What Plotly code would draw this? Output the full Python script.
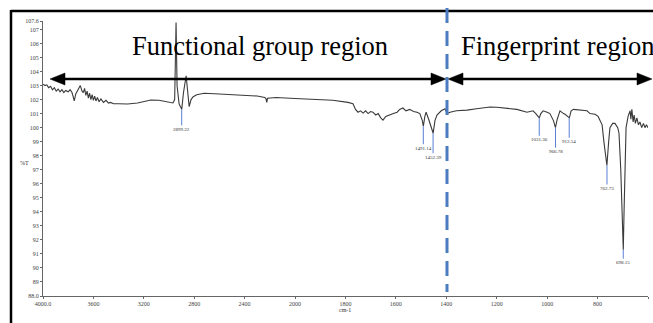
import plotly.graph_objects as go

# ---------------- data ----------------
wavenumber = [4000, 3985, 3970, 3955, 3940, 3925, 3910, 3895, 3880, 3865, 3850, 3835, 3820, 3800,
              3785, 3770, 3760, 3752, 3740, 3720, 3704, 3690, 3680, 3670, 3660, 3650, 3640, 3630,
              3620, 3610, 3600, 3590, 3580, 3568, 3555, 3540, 3520, 3500, 3480, 3464, 3440, 3400,
              3328, 3250, 3200, 3144, 3080, 3008, 2968, 2955, 2944, 2936, 2920, 2899, 2885, 2864,
              2850, 2840, 2825, 2808, 2780, 2744, 2720, 2600, 2500, 2424, 2300, 2240, 2230, 2224,
              2218, 2150, 2024, 2000, 1950, 1913, 1850, 1790, 1770, 1760, 1750, 1740, 1730, 1720,
              1710, 1700, 1691, 1680, 1670, 1660, 1651, 1640, 1630, 1620, 1610, 1595, 1585, 1572,
              1560, 1545, 1530, 1516, 1505, 1495, 1491, 1485, 1480, 1470, 1452, 1445, 1437, 1420,
              1405, 1397, 1385, 1360, 1318, 1280, 1250, 1227, 1200, 1159, 1120, 1080, 1056, 1045,
              1031, 1025, 1016, 1000, 989, 975, 967, 960, 949, 935, 929, 912, 905, 895, 870, 842,
              830, 810, 798, 790, 782, 775, 763, 756, 751, 740, 731, 720, 715, 708, 703, 698, 695,
              690, 687, 679, 675, 671, 668, 664, 659, 655, 650, 644, 638, 632, 625, 618, 612, 606, 600]
transmittance = [103.1, 103.0, 103.05, 102.85, 102.95, 102.7, 102.85, 102.6, 102.75, 102.55, 102.7, 102.5,
                 102.65, 102.55, 102.7, 102.5, 102.2, 101.9, 102.4, 102.8, 103.0, 102.6, 102.5, 102.8,
                 102.3, 102.6, 102.1, 102.45, 102.0, 102.35, 101.95, 102.25, 101.9, 102.15, 101.85,
                 102.05, 101.8, 101.95, 101.75, 101.8, 101.7, 101.7, 101.68, 101.75, 101.85, 101.97,
                 101.95, 101.85, 101.76, 102.0, 107.5, 103.0, 101.7, 101.3, 102.5, 103.7, 102.2, 101.5,
                 102.0, 102.2, 102.35, 102.4, 102.45, 102.4, 102.35, 102.3, 102.25, 102.15, 102.05,
                 101.8, 102.1, 102.15, 102.1, 102.08, 102.05, 102.04, 101.95, 101.8, 101.7, 101.3,
                 101.1, 101.2, 101.04, 101.2, 101.0, 101.15, 101.1, 100.9, 101.0, 100.7, 100.54, 100.8,
                 100.85, 100.95, 101.0, 101.1, 101.3, 101.4, 101.2, 101.3, 101.15, 101.1, 101.0, 100.5,
                 100.1, 100.8, 101.1, 100.6, 99.6, 100.5, 100.9, 101.2, 101.35, 101.0, 101.1, 101.2,
                 101.25, 101.35, 101.4, 101.47, 101.45, 101.35, 101.3, 101.1, 101.2, 101.0, 100.7,
                 101.0, 101.2, 101.1, 101.0, 100.5, 100.0, 100.6, 101.2, 101.0, 100.95, 100.7, 101.2,
                 101.3, 101.25, 101.2, 101.0, 100.95, 100.8, 100.5, 100.2, 99.0, 97.3, 99.0, 100.0,
                 100.3, 100.3, 100.0, 99.6, 97.0, 93.0, 91.3, 94.0, 98.0, 100.0, 100.8, 101.0, 101.2,
                 100.6, 101.3, 100.4, 100.9, 100.3, 100.7, 100.2, 100.4, 100.0, 100.3, 100.0, 100.2, 100.0]

peak_labels = ["2899.22", "1491.14", "1452.39", "1031.36", "966.78", "912.54", "762.73", "698.15"]
peak_wn = [2899.22, 1491.14, 1452.39, 1031.36, 966.78, 912.54, 762.73, 698.15]
peak_t = [101.3, 100.1, 99.6, 100.7, 100.0, 100.7, 97.3, 91.3]

y_ticks = [88.0, 89, 90, 91, 92, 93, 94, 95, 96, 97, 98, 99, 100, 101, 102, 103, 104, 105, 106, 107, 107.6]
y_ticktext = ["88.0"] + [str(v) for v in range(89, 108)] + ["107.6"]
x1_ticks = [4000, 3600, 3200, 2800, 2400, 2000]
x1_ticktext = ["4000.0", "3600", "3200", "2800", "2400", "2000"]
x2_ticks = [1800, 1600, 1400, 1200, 1000, 800, 600]
x2_ticktext = ["1800", "1600", "1400", "1200", "1000", "800", "600.0"]

# ---------------- layout geometry (pixels) ----------------
W, H = 653, 323
PL, PR, PT, PB = 43, 648, 21, 296
SPLIT = 295


def px(x):
    return (x - PL) / (PR - PL)


def py(y):
    return (PB - y) / (PB - PT)


d = px(SPLIT)
SERIF = "Liberation Serif, Times New Roman, serif"

hi = [(w, t) for w, t in zip(wavenumber, transmittance) if w >= 2000]
lo = [(w, t) for w, t in zip(wavenumber, transmittance) if w <= 2000]

fig = go.Figure()
fig.add_trace(go.Scatter(x=[p[0] for p in hi], y=[p[1] for p in hi], mode="lines",
                         line=dict(color="#3a3a3a", width=1.1), xaxis="x", yaxis="y",
                         showlegend=False, hoverinfo="skip"))
fig.add_trace(go.Scatter(x=[p[0] for p in lo], y=[p[1] for p in lo], mode="lines",
                         line=dict(color="#3a3a3a", width=1.1), xaxis="x2", yaxis="y",
                         showlegend=False, hoverinfo="skip"))

stem = [20, 22, 24, 22, 24, 24, 23, 13]
annotations = []
for lab, w, t, s in zip(peak_labels, peak_wn, peak_t, stem):
    annotations.append(dict(
        x=w, y=t, xref="x" if w >= 2000 else "x2", yref="y", text=lab,
        showarrow=True, arrowhead=0, arrowwidth=1, arrowcolor="#5a7fd4",
        ax=0, ay=s, standoff=0, font=dict(family=SERIF, size=5, color="#333")))

annotations += [
    dict(text="Functional group region", x=px(260), y=py(46), xref="paper", yref="paper",
         showarrow=False, xanchor="center", yanchor="middle",
         font=dict(family=SERIF, size=26.5, color="black")),
    dict(text="Fingerprint region", x=px(459), y=py(46), xref="paper", yref="paper",
         showarrow=False, xanchor="left", yanchor="middle",
         font=dict(family=SERIF, size=26.5, color="black")),
    dict(text="%T", x=px(18), y=py(163), xref="paper", yref="paper", showarrow=False,
         font=dict(family=SERIF, size=6, color="#333")),
    dict(text="cm-1", x=px(345), y=py(315), xref="paper", yref="paper", showarrow=False,
         font=dict(family=SERIF, size=6, color="#333")),
]

shapes = []
# frame (top and left edges)
shapes.append(dict(type="line", xref="paper", yref="paper", x0=px(11), y0=py(11), x1=px(700), y1=py(11),
                   line=dict(color="black", width=2.5)))
shapes.append(dict(type="line", xref="paper", yref="paper", x0=px(11), y0=py(10), x1=px(11), y1=py(340),
                   line=dict(color="black", width=2.5)))


def arrow_head(tip, direction, yc, length=15, half=6):
    base = tip - direction * length
    return dict(type="path", xref="paper", yref="paper",
                path=f"M {px(tip)} {py(yc)} L {px(base)} {py(yc - half)} L {px(base)} {py(yc + half)} Z",
                fillcolor="black", line=dict(color="black", width=0.5))


YA = 79
for l_tip, r_tip in [(50, 446), (448, 652)]:
    shapes.append(dict(type="line", xref="paper", yref="paper", x0=px(l_tip + 8), y0=py(YA),
                       x1=px(r_tip - 8), y1=py(YA), line=dict(color="black", width=2.5)))
    shapes.append(arrow_head(l_tip, -1, YA))
    shapes.append(arrow_head(r_tip, 1, YA))

# dashed region divider
shapes.append(dict(type="line", xref="paper", yref="paper", x0=px(447), y0=py(8), x1=px(447), y1=py(292),
                   line=dict(color="#4a7cc0", width=3, dash="15px,8px")))

axis_common = dict(showgrid=False, zeroline=False, showline=True, linecolor="#666", linewidth=1,
                   ticks="outside", ticklen=2, tickcolor="#666", tickwidth=1,
                   tickfont=dict(family=SERIF, size=6, color="#444"), automargin=False)

fig.update_layout(
    width=W, height=H,
    margin=dict(l=PL, r=W - PR, t=PT, b=H - PB, autoexpand=False),
    paper_bgcolor="white", plot_bgcolor="white",
    xaxis=dict(domain=[0, d], range=[4000, 2000], tickmode="array", tickvals=x1_ticks,
               ticktext=x1_ticktext, anchor="y", **axis_common),
    xaxis2=dict(domain=[d, 1], range=[2000, 600], tickmode="array", tickvals=x2_ticks,
                ticktext=x2_ticktext, anchor="y", **axis_common),
    yaxis=dict(range=[88.0, 107.6], tickmode="array", tickvals=y_ticks, ticktext=y_ticktext,
               anchor="x", **axis_common),
    annotations=annotations,
    shapes=shapes,
)

fig.write_html("out.html", config={"displayModeBar": False},
               post_script="document.body.style.margin='0';document.body.style.overflow='hidden';")
